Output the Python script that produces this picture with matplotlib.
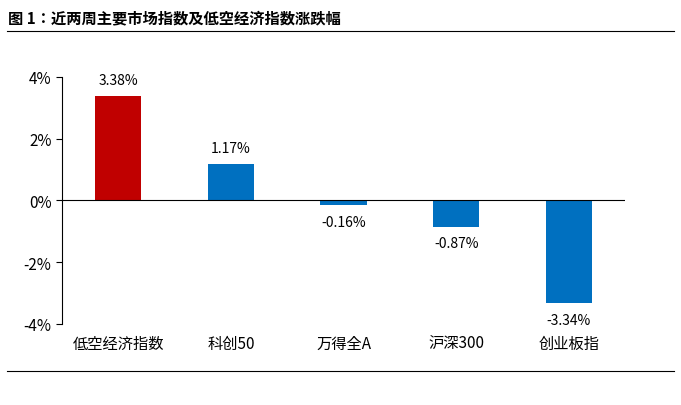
import matplotlib.pyplot as plt
from matplotlib import font_manager
from matplotlib.lines import Line2D

# pick whatever CJK family is registered
cjk = [f.name for f in font_manager.fontManager.ttflist if 'CJK' in f.name]
fams = [n for n in ['Noto Sans CJK SC', 'Noto Sans CJK JP'] if n in cjk] + cjk
plt.rcParams['font.family'] = 'sans-serif'
plt.rcParams['font.sans-serif'] = fams[:1] + ['DejaVu Sans']
plt.rcParams['axes.unicode_minus'] = False

## Data
categories = ['低空经济指数', '科创50', '万得全A', '沪深300', '创业板指']
changes = [3.38, 1.17, -0.16, -0.87, -3.34]
labels = ['3.38%', '1.17%', '-0.16%', '-0.87%', '-3.34%']
colors = ['#C00000', '#0070C0', '#0070C0', '#0070C0', '#0070C0']

fig = plt.figure(figsize=(6.81, 4.06), dpi=100)
ax = fig.add_axes([0.091, 0.2, 0.827, 0.608])

x = list(range(len(categories)))
ax.bar(x, changes, width=0.41, color=colors)
for xi, v, t in zip(x, changes, labels):
    if v >= 0:
        ax.text(xi, v + 0.3, t, ha='center', va='bottom', fontsize=10)
    else:
        ax.text(xi, v - 0.3, t, ha='center', va='top', fontsize=10)

ax.axhline(0, color='black', linewidth=0.8)
ax.set_xlim(-0.5, 4.5)
ax.set_ylim(-4, 4)
ax.set_yticks([-4, -2, 0, 2, 4])
ax.set_yticklabels(['-4%', '-2%', '0%', '2%', '4%'], fontsize=11)
ax.set_xticks(x)
ax.set_xticklabels(categories, fontsize=11)
ax.tick_params(axis='x', length=0, pad=8)
ax.tick_params(axis='y', direction='out', length=4)
for s in ['top', 'right', 'bottom']:
    ax.spines[s].set_visible(False)

fig.text(0.012, 0.955, '图 1：近两周主要市场指数及低空经济指数涨跌幅', fontsize=11,
         fontweight='bold', va='center')
fig.add_artist(Line2D([0.01, 0.99], [0.921, 0.921], color='black', linewidth=0.8))
fig.add_artist(Line2D([0.01, 0.99], [0.084, 0.084], color='black', linewidth=0.8))

fig.savefig('out.png')
